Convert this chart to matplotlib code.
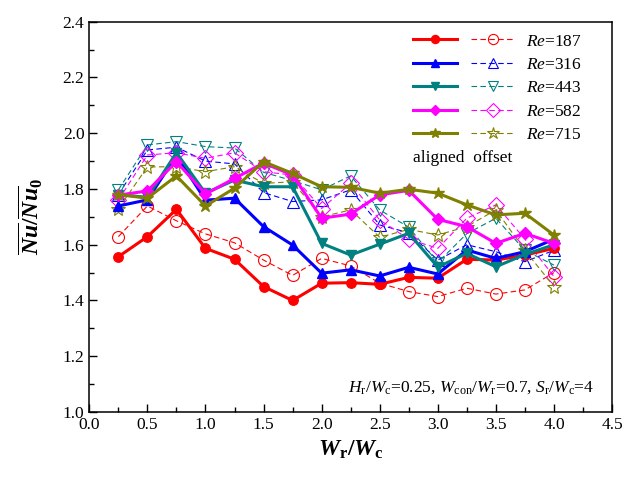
import numpy as np
import matplotlib
matplotlib.use("Agg")
from matplotlib import pyplot as plt
from matplotlib.legend_handler import HandlerTuple
from matplotlib.ticker import MultipleLocator

plt.rcParams['font.family'] = ['Liberation Serif', 'DejaVu Serif']
plt.rcParams['mathtext.fontset'] = 'custom'
plt.rcParams['mathtext.rm'] = 'Liberation Serif'
plt.rcParams['mathtext.it'] = 'Liberation Serif:italic'
plt.rcParams['mathtext.bf'] = 'Liberation Serif:bold'
plt.rcParams['mathtext.bfit'] = 'Liberation Serif:italic:bold'

# data
wr_wc = [0.25, 0.5, 0.75, 1.0, 1.25, 1.5, 1.75, 2.0,
         2.25, 2.5, 2.75, 3.0, 3.25, 3.5, 3.75, 4.0]
re_labels = ['187', '316', '443', '582', '715']

aligned_187 = [1.557, 1.629, 1.727, 1.587, 1.548, 1.450, 1.400, 1.462,
               1.464, 1.458, 1.483, 1.480, 1.548, 1.545, 1.563, 1.587]
aligned_316 = [1.739, 1.761, 1.920, 1.760, 1.767, 1.665, 1.599, 1.498,
               1.510, 1.488, 1.519, 1.495, 1.581, 1.551, 1.575, 1.620]
aligned_443 = [1.780, 1.770, 1.930, 1.785, 1.832, 1.808, 1.808, 1.605,
               1.563, 1.602, 1.641, 1.520, 1.569, 1.521, 1.565, 1.600]
aligned_582 = [1.778, 1.793, 1.898, 1.782, 1.838, 1.893, 1.850, 1.695,
               1.710, 1.779, 1.795, 1.691, 1.665, 1.605, 1.641, 1.605]
aligned_715 = [1.780, 1.767, 1.847, 1.739, 1.803, 1.898, 1.856, 1.808,
               1.806, 1.785, 1.799, 1.785, 1.743, 1.707, 1.713, 1.635]

offset_187 = [1.629, 1.739, 1.686, 1.639, 1.607, 1.545, 1.490, 1.551,
              1.524, 1.462, 1.432, 1.414, 1.444, 1.423, 1.438, 1.500]
offset_316 = [1.780, 1.940, 1.950, 1.900, 1.890, 1.787, 1.755, 1.761,
              1.797, 1.671, 1.643, 1.545, 1.600, 1.575, 1.539, 1.580]
offset_443 = [1.797, 1.958, 1.970, 1.952, 1.947, 1.860, 1.830, 1.797,
              1.847, 1.725, 1.663, 1.536, 1.640, 1.695, 1.580, 1.527]
offset_582 = [1.760, 1.922, 1.930, 1.910, 1.930, 1.862, 1.850, 1.730,
              1.820, 1.689, 1.620, 1.587, 1.695, 1.743, 1.620, 1.486]
offset_715 = [1.730, 1.879, 1.880, 1.862, 1.880, 1.820, 1.826, 1.700,
              1.725, 1.627, 1.655, 1.635, 1.665, 1.725, 1.580, 1.450]

aligned = [aligned_187, aligned_316, aligned_443, aligned_582, aligned_715]
offset = [offset_187, offset_316, offset_443, offset_582, offset_715]
colors = ['#ff0000', '#0000ff', '#008080', '#ff00ff', '#808000']
markers = ['o', '^', 'v', 'D', '*']
msize = [6.8, 7.2, 7.2, 6.3, 9]

fig = plt.figure(figsize=(6.29, 4.83), dpi=100)
ax = fig.add_axes([0.142, 0.147, 0.831, 0.808])

handles = []
for i in range(5):
    lo, = ax.plot(wr_wc, offset[i], ls=(0, (5, 3)), lw=0.8, color=colors[i],
                  marker=markers[i], ms=msize[i] + 1.8, mfc='none',
                  mew=0.8, zorder=2)
    la, = ax.plot(wr_wc, aligned[i], ls='-', lw=2.2, color=colors[i],
                  marker=markers[i], ms=msize[i], zorder=3)
    handles.append((la, lo))

ax.set_xlim(0.0, 4.5)
ax.set_ylim(1.0, 2.4)
ax.xaxis.set_major_locator(MultipleLocator(0.5))
ax.xaxis.set_minor_locator(MultipleLocator(0.25))
ax.yaxis.set_major_locator(MultipleLocator(0.2))
ax.yaxis.set_minor_locator(MultipleLocator(0.1))
ax.xaxis.set_major_formatter(matplotlib.ticker.FormatStrFormatter('%.1f'))
ax.yaxis.set_major_formatter(matplotlib.ticker.FormatStrFormatter('%.1f'))
ax.tick_params(which='both', direction='in', top=False, right=False,
               labelsize=12.5, width=1)
ax.tick_params(which='major', length=6)
ax.tick_params(which='minor', length=3.5)
for s in ax.spines.values():
    s.set_linewidth(1.1)

ax.set_xlabel(r'$\mathbfit{W}_\mathbf{r}\mathbf{/}\mathbfit{W}_\mathbf{c}$',
              fontsize=17, labelpad=4)
ax.set_ylabel(r'$\mathbfit{\overline{Nu}}\mathbf{/}\mathbfit{\overline{Nu}}_\mathbf{0}$',
              fontsize=17, labelpad=13)

leg = ax.legend(handles, [r'$Re$=' + r for r in re_labels],
                handler_map={tuple: HandlerTuple(ndivide=None, pad=0.8)},
                loc='upper left', bbox_to_anchor=(0.606, 0.988),
                frameon=False, fontsize=12.5, handlelength=5.9,
                handletextpad=0.58, labelspacing=0.42, borderaxespad=0,
                markerscale=0.85)
ax.text(0.619, 0.652, 'aligned  offset', transform=ax.transAxes,
        fontsize=12.5, ha='left', va='center')

ax.text(0.965, 0.041,
        r'$H_\mathrm{r}/W_\mathrm{c}$=0.25, $W_\mathrm{con}/W_\mathrm{r}$=0.7, '
        r'$S_\mathrm{r}/W_\mathrm{c}$=4',
        transform=ax.transAxes, fontsize=12.5, ha='right', va='bottom')

fig.savefig('out.png', dpi=100)
